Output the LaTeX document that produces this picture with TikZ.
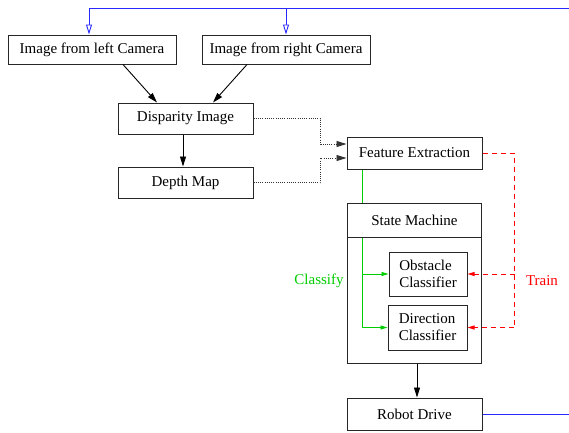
\documentclass[tikz,border=0pt]{standalone}
\usepackage{fontspec}
\setmainfont{Liberation Serif}
\usetikzlibrary{arrows.meta,calc}

\definecolor{linkblue}{RGB}{40,40,255}
\definecolor{clsgreen}{RGB}{0,205,0}
\definecolor{trnred}{RGB}{255,0,0}

\begin{document}
\begin{tikzpicture}[x=1pt,y=-1pt,
  font=\fontsize{15}{17}\selectfont,
  box/.style={draw=black!85,line width=1pt,inner sep=0pt,minimum height=30pt},
  blk/.style={-{Triangle[length=10pt,width=6pt]},line width=0.9pt,black},
  dotlink/.style={-{Triangle[length=10pt,width=6pt]},line width=0.9pt,black!80,dash pattern=on 1pt off 1.2pt},
  bluelink/.style={line width=0.9pt,draw=linkblue},
  bluearrow/.style={bluelink,-{Triangle[open,fill=white,length=10pt,width=6pt]}},
  grn/.style={line width=0.9pt,draw=clsgreen},
  grnarrow/.style={grn,-{Triangle[length=7pt,width=4pt]}},
  rdash/.style={line width=1pt,draw=trnred,dash pattern=on 5pt off 4pt},
  rarrow/.style={rdash,-{Triangle[length=7pt,width=4pt]}}]

\useasboundingbox (0,0) rectangle (569,432);

% boxes
\node[box,minimum width=168pt,minimum height=29pt] (lcam) at (92,49.5) {Image from left Camera};
\node[box,minimum width=168pt,minimum height=29pt] (rcam) at (286,49.5) {Image from right Camera};
\node[box,minimum width=135pt,minimum height=31pt] (disp) at (185.5,118.5) {Disparity Image};
\node[box,minimum width=135pt,minimum height=31pt] (depth) at (185.5,182.5) {Depth Map};
\node[box,minimum width=135pt,minimum height=32pt] (feat) at (414.5,153) {Feature Extraction};
\node[box,minimum width=134pt,minimum height=34pt] (sm) at (414.5,220) {State Machine};
\node[box,minimum width=134pt,minimum height=126pt] (smbody) at (414.5,300) {};
\node[box,minimum width=78pt,minimum height=44pt,align=left] (ocls) at (428,274) {Obstacle\\Classifier};
\node[box,minimum width=79pt,minimum height=45pt,align=left] (dcls) at (427.5,327.5) {Direction\\Classifier};
\node[box,minimum width=135pt,minimum height=32pt] (robot) at (414.5,414) {Robot Drive};

% labels
\node[text=clsgreen] (lclass) at (319,281) {Classify};
\node[text=trnred] (ltrain) at (542,281) {Train};

% feedback from the drive to both cameras
\coordinate (bluetop) at (569,8);
\coordinate (blueend) at (569,414);
\draw[bluearrow] (bluetop) -| ([xshift=-3pt]lcam.north);
\draw[bluearrow] (bluetop -| rcam.north) -- (rcam.north);
\draw[bluelink] (robot.east) -- (blueend);

% image pipeline
\draw[blk] ([xshift=31pt]lcam.south) -- ([xshift=-28.5pt]disp.north);
\draw[blk] ([xshift=-39pt]rcam.south) -- ([xshift=27.5pt]disp.north);
\draw[blk] ([xshift=-2.5pt]disp.south) -- ([xshift=-2.5pt]depth.south |- depth.north);
\draw[dotlink] (disp.east) -- ++(67,0) |- ([yshift=9pt]feat.west);
\draw[dotlink] (depth.east) -- ++(67,0) |- ([yshift=-5pt]feat.west);

% classification path
\coordinate (gtop) at ([xshift=-52.5pt]feat.south);
\draw[grn] (gtop) -- (gtop |- sm.north);
\draw[grnarrow] (gtop |- sm.south) |- (dcls.west);
\draw[grnarrow] (gtop |- ocls.west) -- (ocls.west);

% training path
\coordinate (rstart) at ([yshift=-0.5pt]feat.east);
\coordinate (rcorner) at ([xshift=32pt]rstart);
\draw[rarrow] (rstart) -- (rcorner) |- (dcls.east);
\draw[rarrow] (rcorner |- ocls.east) -- (ocls.east);

% state machine to drive
\draw[blk] ([xshift=2.5pt]smbody.south) -- ([xshift=2.5pt]robot.north);

\end{tikzpicture}
\end{document}
